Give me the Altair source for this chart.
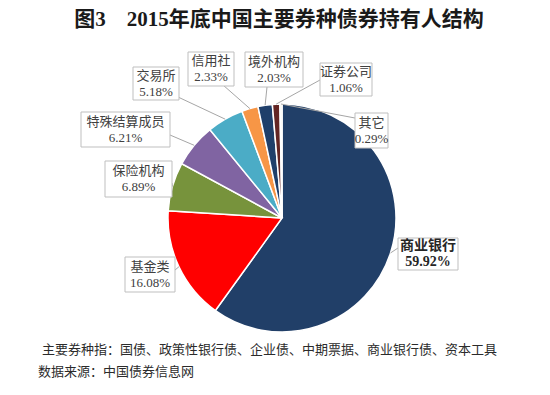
import math
import altair as alt
import pandas as pd

# ---- data ----
categories = ["商业银行", "基金类", "保险机构", "特殊结算成员", "交易所", "信用社", "境外机构", "证券公司", "其它"]
shares = [59.92, 16.08, 6.89, 6.21, 5.18, 2.33, 2.03, 1.06, 0.29]
colors = ["#213F68", "#FF0000", "#77933C", "#8064A2", "#4BACC6", "#F79646", "#1F3F6A", "#632523", "#EEECE1"]

TITLE = "图3　2015年底中国主要券种债券持有人结构"
NOTES = ["主要券种指：国债、政策性银行债、企业债、中期票据、商业银行债、资本工具",
         "数据来源：中国债券信息网"]

# ---- layout (page pixels) ----
OFF = 8
CX, CY, R = 282, 218, 114
# label boxes: x0, y0, x1, y1
BOXES = [
    (398, 238, 458, 270),
    (125, 257, 175, 292),
    (105, 161, 172, 197),
    (81, 112, 170, 147),
    (133, 67, 179, 100),
    (188, 52, 234, 86),
    (245, 52, 303, 87),
    (320, 63, 372, 96),
    (355, 113, 388, 148),
]
# where each leader line meets its box
ANCHORS = [
    (398, 248), (175, 270), (172, 183), (170, 135), (178, 97),
    (223, 85), (267, 87), (320, 80), (355, 118),
]

pie_df = pd.DataFrame({"cat": categories, "share": shares, "idx": list(range(len(categories)))})

# mid angles from data (clockwise from 12 o'clock)
total = sum(shares)
mids = []
acc = 0.0
for s in shares:
    mids.append((acc + s / 2) / total * 2 * math.pi)
    acc += s

lead_rows, box_rows, text_rows = [], [], []
for i, cat in enumerate(categories):
    a = mids[i]
    px = CX + R * math.sin(a)
    py = CY - R * math.cos(a)
    ax, ay = ANCHORS[i]
    lead_rows.append({"x": px - OFF, "y": py - OFF, "x2": ax - OFF, "y2": ay - OFF})
    x0, y0, x1, y1 = BOXES[i]
    box_rows.append({"x": x0 - OFF, "y": y0 - OFF, "x2": x1 - OFF, "y2": y1 - OFF})
    cxm = (x0 + x1) / 2 - OFF
    cym = (y0 + y1) / 2 - OFF
    bold = i == 0
    text_rows.append({"x": cxm, "y": cym - 8, "t": cat, "b": bold})
    text_rows.append({"x": cxm, "y": cym + 8, "t": f"{shares[i]:.2f}%", "b": bold})

lead_df = pd.DataFrame(lead_rows)
box_df = pd.DataFrame(box_rows)
text_df = pd.DataFrame(text_rows)

FONT = "Liberation Serif, Noto Sans CJK SC"

pie = alt.Chart(pie_df).mark_arc(outerRadius=R, stroke="white", strokeWidth=1.5).encode(
    theta=alt.Theta("share:Q", stack=True),
    order=alt.Order("idx:Q"),
    color=alt.Color("cat:N", scale=alt.Scale(domain=categories, range=colors), legend=None),
    x=alt.value(CX - OFF),
    y=alt.value(CY - OFF),
)

leaders = alt.Chart(lead_df).mark_rule(color="#A6A6A6", strokeWidth=1).encode(
    x=alt.X("x:Q", scale=None), y=alt.Y("y:Q", scale=None),
    x2="x2:Q", y2="y2:Q",
)

boxes = alt.Chart(box_df).mark_rect(fill="white", stroke="#BFBFBF", strokeWidth=1).encode(
    x=alt.X("x:Q", scale=None), y=alt.Y("y:Q", scale=None),
    x2="x2:Q", y2="y2:Q",
)

labels = alt.Chart(text_df[~text_df["b"]]).mark_text(
    font=FONT, fontSize=13, color="#404040", align="center", baseline="middle"
).encode(x=alt.X("x:Q", scale=None), y=alt.Y("y:Q", scale=None), text="t:N")

labels_bold = alt.Chart(text_df[text_df["b"]]).mark_text(
    font=FONT, fontSize=14, fontWeight="bold", color="#262626", align="center", baseline="middle"
).encode(x=alt.X("x:Q", scale=None), y=alt.Y("y:Q", scale=None), text="t:N")

title = alt.Chart(pd.DataFrame({"t": [TITLE]})).mark_text(
    font=FONT, fontSize=21, fontWeight="bold", color="#1A1A1A", align="center", baseline="middle"
).encode(x=alt.value(279 - OFF), y=alt.value(20 - OFF), text="t:N")

note1 = alt.Chart(pd.DataFrame({"t": [NOTES[0]]})).mark_text(
    font="Noto Sans CJK SC", fontSize=13, color="#2B2B2B", align="left", baseline="middle"
).encode(x=alt.value(42 - OFF), y=alt.value(350 - OFF), text="t:N")

note2 = alt.Chart(pd.DataFrame({"t": [NOTES[1]]})).mark_text(
    font="Noto Sans CJK SC", fontSize=13, color="#2B2B2B", align="left", baseline="middle"
).encode(x=alt.value(38 - OFF), y=alt.value(372 - OFF), text="t:N")

chart = alt.layer(pie, leaders, boxes, labels, labels_bold, title, note1, note2).properties(
    width=534, height=379, autosize=alt.AutoSizeParams(type="none"), padding=0
).configure_view(stroke=None)

chart.save("out.html", embed_options={"renderer": "svg", "actions": False})
